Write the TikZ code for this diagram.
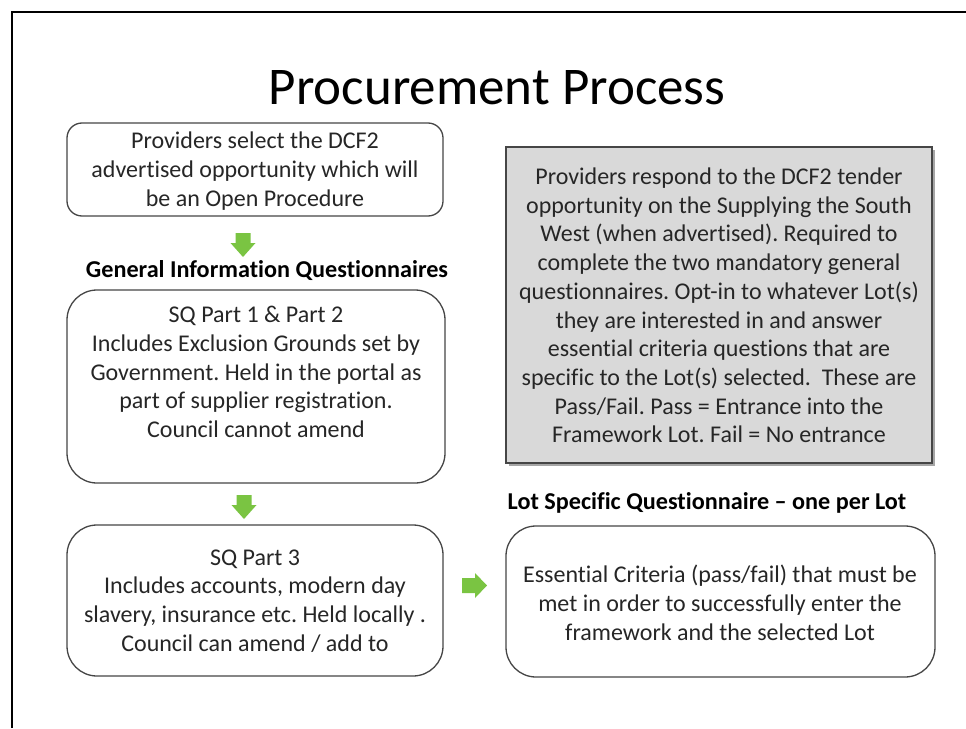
\documentclass[tikz,border=0pt]{standalone}
\usepackage{fontspec}
\setmainfont{Carlito}[RawFeature={-liga}]
\frenchspacing
\definecolor{arrgreen}{RGB}{122,196,66}
\definecolor{boxline}{RGB}{70,70,70}
\definecolor{grayfill}{RGB}{217,217,217}
\begin{document}
\begin{tikzpicture}[x=1pt,y=-1pt,
  txt/.style={font=\fontsize{24}{28.7}\selectfont, text=black!85, align=center},
  rbox/.style={draw=boxline, line width=1.3pt, rounded corners=#1, fill=white},
  hdr/.style={font=\fontsize{24.2}{28}\bfseries\selectfont, text=black},
  downarr/.pic={\fill[arrgreen] (-7.5,-12) -- (7.5,-12) -- (7.5,-2) -- (12.5,-2) -- (0,12) -- (-12.5,-2) -- (-7.5,-2) -- cycle;},
  rightarr/.pic={\fill[arrgreen] (-12.5,-7.5) -- (0.5,-7.5) -- (0.5,-12.5) -- (12.5,0) -- (0.5,12.5) -- (0.5,7.5) -- (-12.5,7.5) -- cycle;}]
\useasboundingbox (0,0) rectangle (966,728);
\fill[white] (0,0) rectangle (966,728);
\draw[line width=2pt, black] (12,728) -- (12,12) -- (966,12);
\node[font=\fontsize{53}{60}\selectfont, text=black] (title) at (497,88) {Procurement Process};
% box 1
\draw[rbox=15pt] (67,123) rectangle (443,216);
\node[txt] (t1) at (255,171) {Providers select the DCF2\\advertised opportunity which will\\be an Open Procedure};
\pic at (243,245) {downarr};
\node[hdr] (h1) at (267,271) {General Information Questionnaires};
% box 2
\draw[rbox=30pt] (67,290) rectangle (445,483);
\node[txt] (t2) at (256,372) {SQ Part 1 \& Part 2\\Includes Exclusion Grounds set by\\Government. Held in the portal as\\part of supplier registration.\\Council cannot amend};
\pic at (244,507) {downarr};
% box 3
\draw[rbox=30pt] (67,525) rectangle (443,676);
\node[txt] (t3) at (255,601) {SQ Part 3\\Includes accounts, modern day\\slavery, insurance etc. Held locally .\\Council can amend / add to};
\pic at (474.5,585.5) {rightarr};
% gray box
\fill[black!35] (509,150) rectangle (935,466);
\draw[draw=boxline, line width=1.3pt, fill=grayfill] (506,147) rectangle (932,463);
\node[txt] (t4) at (719,305.5) {Providers respond to the DCF2 tender\\opportunity on the Supplying the South\\West (when advertised). Required to\\complete the two mandatory general\\questionnaires. Opt-in to whatever Lot(s)\\they are interested in and answer\\essential criteria questions that are\\specific to the Lot(s) selected.\ \ These are\\Pass/Fail. Pass = Entrance into the\\Framework Lot. Fail = No entrance};
\node[hdr] (h2) at (707,503) {Lot Specific Questionnaire -- one per Lot};
% box 4
\draw[rbox=30pt] (506,526) rectangle (935,677);
\node[txt] (t5) at (720,603) {Essential Criteria (pass/fail) that must be\\met in order to successfully enter the\\framework and the selected Lot};
\end{tikzpicture}
\end{document}
